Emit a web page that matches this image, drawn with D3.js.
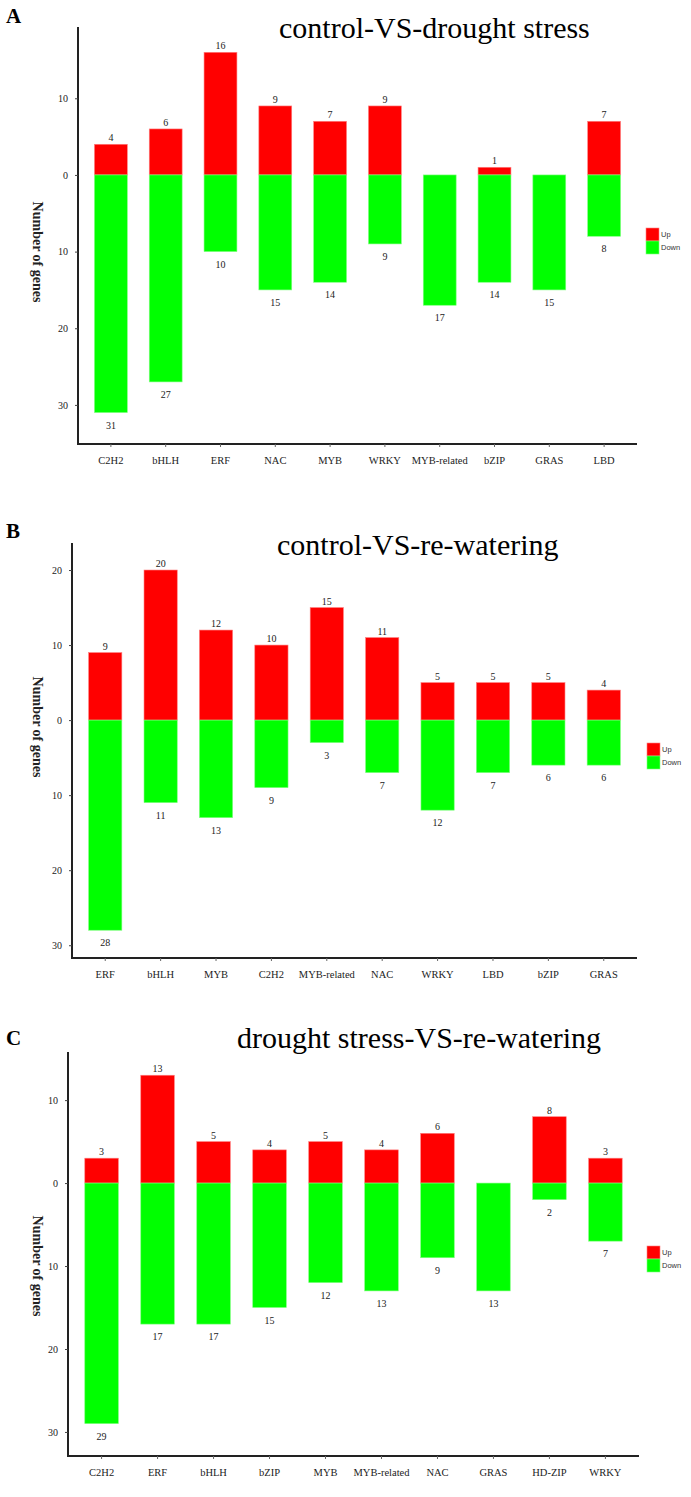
<!DOCTYPE html>
<html>
<head>
<meta charset="utf-8">
<script src="https://cdn.jsdelivr.net/npm/d3@7"></script>
<style>
  html, body { margin: 0; padding: 0; background: #fff; }
  svg { display: block; }
</style>
</head>
<body>
<svg id="chart" width="691" height="1497"></svg>
<script>
// ---- Data ----
const categoriesA = ["C2H2", "bHLH", "ERF", "NAC", "MYB", "WRKY", "MYB-related", "bZIP", "GRAS", "LBD"];
const upA = [4, 6, 16, 9, 7, 9, 0, 1, 0, 7];
const downA = [31, 27, 10, 15, 14, 9, 17, 14, 15, 8];
const ticksA = [10, 0, 10, 20, 30];

const categoriesB = ["ERF", "bHLH", "MYB", "C2H2", "MYB-related", "NAC", "WRKY", "LBD", "bZIP", "GRAS"];
const upB = [9, 20, 12, 10, 15, 11, 5, 5, 5, 4];
const downB = [28, 11, 13, 9, 3, 7, 12, 7, 6, 6];
const ticksB = [20, 10, 0, 10, 20, 30];

const categoriesC = ["C2H2", "ERF", "bHLH", "bZIP", "MYB", "MYB-related", "NAC", "GRAS", "HD-ZIP", "WRKY"];
const upC = [3, 13, 5, 4, 5, 4, 6, 0, 8, 3];
const downC = [29, 17, 17, 15, 12, 13, 9, 13, 2, 7];
const ticksC = [10, 0, 10, 20, 30];

const titles = ["control-VS-drought stress", "control-VS-re-watering", "drought stress-VS-re-watering"];
const panelLetters = ["A", "B", "C"];
const legendLabels = ["Up", "Down"];
const yLabel = "Number of genes";

// ---- Layout (positions only) ----
const layouts = [
  { x0: 78, x1: 637, yTop: 27, yBot: 444, dMin: -35.1, dMax: 19.3, tickSigns: [1, 0, -1, -1, -1],
    titleX: 279, titleY: 38, letterY: 23, yLabelC: 252, legX: 646, legY: 228 },
  { x0: 72, x1: 637, yTop: 543, yBot: 958, dMin: -31.7, dMax: 23.6, tickSigns: [1, 1, 0, -1, -1, -1],
    titleX: 277, titleY: 555, letterY: 538, yLabelC: 727, legX: 647, legY: 743 },
  { x0: 68, x1: 639, yTop: 1052, yBot: 1456, dMin: -32.9, dMax: 15.8, tickSigns: [1, 0, -1, -1, -1],
    titleX: 237, titleY: 1048, letterY: 1045, yLabelC: 1266, legX: 647, legY: 1246 }
];

const panels = [
  { cats: categoriesA, up: upA, down: downA, ticks: ticksA },
  { cats: categoriesB, up: upB, down: downB, ticks: ticksB },
  { cats: categoriesC, up: upC, down: downC, ticks: ticksC }
];

const RED = "#ff0000", GREEN = "#00ff00";
const SERIF = "'Liberation Serif', 'Times New Roman', serif";
const SANS = "'Liberation Sans', Arial, sans-serif";

const svg = d3.select("#chart");

panels.forEach((p, i) => {
  const L = layouts[i];
  const g = svg.append("g");

  const x = d3.scaleBand().domain(p.cats).range([L.x0, L.x1]).paddingInner(0.4).paddingOuter(0.3);
  const y = d3.scaleLinear().domain([L.dMin, L.dMax]).range([L.yBot, L.yTop]);

  const upData = p.cats.map((c, k) => ({ c, v: p.up[k] })).filter(d => d.v > 0);
  const downData = p.cats.map((c, k) => ({ c, v: p.down[k] })).filter(d => d.v > 0);

  // bars: up
  g.selectAll(".up").data(upData).enter().append("rect")
    .attr("x", d => x(d.c)).attr("width", x.bandwidth())
    .attr("y", d => y(d.v)).attr("height", d => y(0) - y(d.v))
    .attr("fill", RED).attr("stroke", "#ff8080").attr("stroke-width", 0.6);

  // bars: down
  g.selectAll(".down").data(downData).enter().append("rect")
    .attr("x", d => x(d.c)).attr("width", x.bandwidth())
    .attr("y", y(0)).attr("height", d => y(-d.v) - y(0))
    .attr("fill", GREEN).attr("stroke", "#80ff80").attr("stroke-width", 0.6);

  // value labels
  g.selectAll(".upl").data(upData).enter().append("text")
    .attr("x", d => x(d.c) + x.bandwidth() / 2).attr("y", d => y(d.v) - 3)
    .attr("text-anchor", "middle").attr("font-family", SERIF).attr("font-size", 10)
    .attr("fill", "#222").text(d => d.v);
  g.selectAll(".dnl").data(downData).enter().append("text")
    .attr("x", d => x(d.c) + x.bandwidth() / 2).attr("y", d => y(-d.v) + 16)
    .attr("text-anchor", "middle").attr("font-family", SERIF).attr("font-size", 10)
    .attr("fill", "#222").text(d => d.v);

  // y axis
  const tickVals = p.ticks.map((t, k) => t * L.tickSigns[k]);
  const yAxis = d3.axisLeft(y).tickValues(tickVals).tickFormat(d => Math.abs(d)).tickSize(3).tickPadding(7);
  const ya = g.append("g").attr("transform", `translate(${L.x0},0)`).call(yAxis);
  ya.select(".domain").attr("stroke", "#222").attr("stroke-width", 2).attr("d", `M0,${L.yTop}V${L.yBot + 1}`);
  ya.selectAll(".tick line").attr("stroke", "#444");
  ya.selectAll(".tick text").attr("font-family", SERIF).attr("font-size", 10).attr("fill", "#222");

  // x axis
  const xAxis = d3.axisBottom(x).tickSize(3).tickPadding(9);
  const xa = g.append("g").attr("transform", `translate(0,${L.yBot})`).call(xAxis);
  xa.select(".domain").attr("stroke", "#222").attr("stroke-width", 2).attr("d", `M${L.x0 - 1},0H${L.x1}`);
  xa.selectAll(".tick line").attr("stroke", "#666");
  xa.selectAll(".tick text").attr("font-family", SERIF).attr("font-size", 10.5).attr("fill", "#222")
    .attr("dy", null).attr("y", 20);

  // y label
  g.append("text")
    .attr("transform", `translate(33,${L.yLabelC}) rotate(90)`)
    .attr("text-anchor", "middle").attr("font-family", SERIF).attr("font-size", 14)
    .attr("font-weight", "bold").attr("fill", "#222").text(yLabel);

  // title
  g.append("text").attr("x", L.titleX).attr("y", L.titleY)
    .attr("font-family", SERIF).attr("font-size", 30).attr("fill", "#000").text(titles[i]);

  // panel letter
  g.append("text").attr("x", 6).attr("y", L.letterY)
    .attr("font-family", SERIF).attr("font-size", 21).attr("font-weight", "bold")
    .attr("fill", "#000").text(panelLetters[i]);

  // legend
  const leg = g.append("g").attr("transform", `translate(${L.legX},${L.legY})`);
  [RED, GREEN].forEach((col, k) => {
    leg.append("rect").attr("x", 0).attr("y", k * 13).attr("width", 13).attr("height", 13)
      .attr("fill", col).attr("stroke", k === 0 ? "#ff8080" : "#80ff80").attr("stroke-width", 0.6);
    leg.append("text").attr("x", 15).attr("y", k * 13 + 9)
      .attr("font-family", SANS).attr("font-size", 7.5).attr("fill", "#333").text(legendLabels[k]);
  });
});
</script>
</body>
</html>
